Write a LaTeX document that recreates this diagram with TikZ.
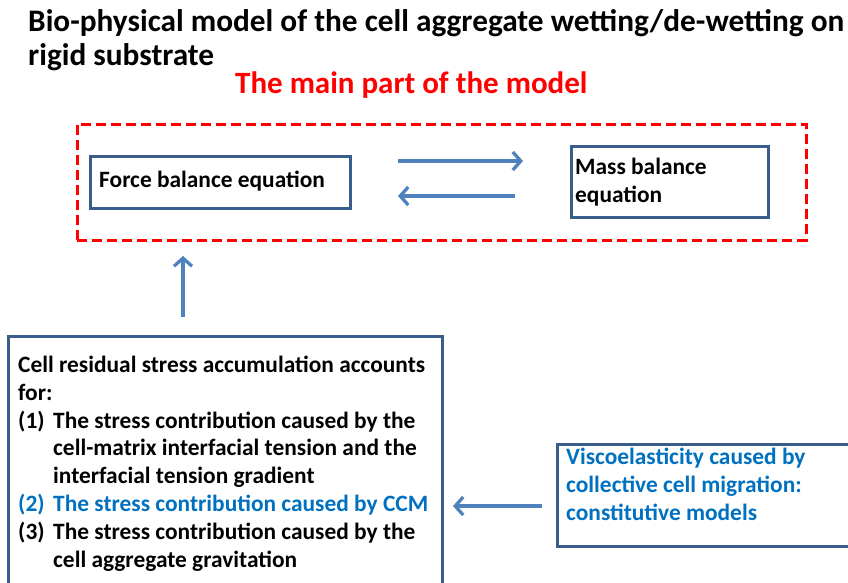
\documentclass[tikz,border=0pt]{standalone}
\usepackage{fontspec}
\setmainfont{Carlito}
\usetikzlibrary{arrows.meta}
\definecolor{boxblue}{RGB}{56,93,138}
\definecolor{arrowblue}{RGB}{79,129,189}
\definecolor{textblue}{RGB}{0,112,192}

\begin{document}
\begin{tikzpicture}[x=1pt, y=-1pt,
  box/.style={draw=boxblue, line width=2.5pt, inner sep=0pt, anchor=north west},
  txt/.style={anchor=base west, inner sep=0pt, align=left, font=\fontsize{23.4}{27.8}\selectfont\bfseries},
  flow/.style={draw=arrowblue, line width=3.3pt, -{Straight Barb[length=8pt,width=18pt,line width=3.3pt]}}]
\useasboundingbox (0,0) rectangle (848,582);
\clip (0,0) rectangle (848,582);

% Title and heading (base = last line)
\node[anchor=base west, inner sep=0pt, align=left, font=\fontsize{31.3}{34}\selectfont\bfseries] (title) at (28,65)
  {Bio-physical model of the cell aggregate wetting/de-wetting on\\rigid substrate};
\node[anchor=base west, inner sep=0pt, text=red, font=\fontsize{31}{33}\selectfont\bfseries] (main) at (235,93)
  {The main part of the model};

% Dashed frame round the main part
\node[draw=red, line width=2.5pt, dash pattern=on 10pt off 5pt, inner sep=0pt,
  minimum width=729pt, minimum height=116pt, anchor=north west] (frame) at (76,123) {};

% Force and mass balance
\node[box, minimum width=260pt, minimum height=52pt] (force) at (89,155) {};
\node[txt] (forcetxt) at (99,187) {Force balance equation};
\node[box, minimum width=197pt, minimum height=71pt] (mass) at (570,145) {};
\node[txt] (masstxt) at (575,202) {Mass balance\\equation};

\coordinate (fm0) at (398,161);
\coordinate (fm1) at (523,161);
\coordinate (mf0) at (515,196);
\coordinate (mf1) at (398,196);
\draw[flow] (fm0) -- (fm1);
\draw[flow] (mf0) -- (mf1);

% Residual stress box
\node[box, minimum width=434pt, minimum height=270pt] (stress) at (7,335) {};
\node[txt] (stresstxt) at (18,567) {Cell residual stress accumulation accounts\\
  for:\\
  \makebox[35pt][l]{(1)}The stress contribution caused by the\\
  \hspace*{35pt}cell-matrix interfacial tension and the\\
  \hspace*{35pt}interfacial tension gradient\\
  {\color{textblue}\makebox[35pt][l]{(2)}The stress contribution caused by CCM}\\
  \makebox[35pt][l]{(3)}The stress contribution caused by the\\
  \hspace*{35pt}cell aggregate gravitation};

\coordinate (up0) at (183,317);
\coordinate (up1) at (183,256);
\draw[flow] (up0) -- (up1);

% Viscoelasticity box
\node[box, minimum width=320pt, minimum height=102pt] (visco) at (556,443) {};
\node[txt, text=textblue] (viscotxt) at (566,520) {Viscoelasticity caused by\\
  collective cell migration:\\
  constitutive models};

\coordinate (vs0) at (542,506);
\coordinate (vs1) at (453,506);
\draw[flow] (vs0) -- (vs1);
\end{tikzpicture}
\end{document}
